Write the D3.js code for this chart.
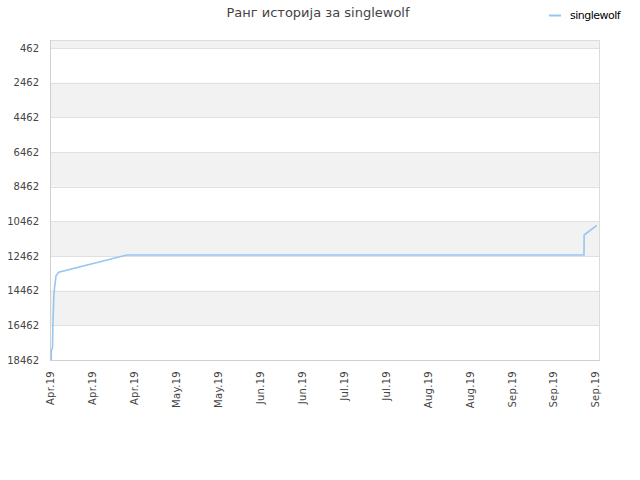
<!DOCTYPE html>
<html><head><meta charset="utf-8">
<script src="https://cdn.jsdelivr.net/npm/d3@7"></script>
<style>body{margin:0;background:#fff}</style>
</head><body><svg id="c" width="640" height="480"></svg>
<script>
const chartTitle = "Ранг историја за singlewolf";
const seriesName = "singlewolf";
const dates = [
  "2019-04-01 10:00","2019-04-01 11:00","2019-04-01 20:00","2019-04-01 22:00",
  "2019-04-02 06:00","2019-04-02 12:00","2019-04-03 00:00","2019-04-03 21:00",
  "2019-04-26 10:00","2019-09-24 17:00","2019-09-24 18:00","2019-09-28 22:00"
];
const ranks = [18462,17900,17750,16700,14800,14300,13600,13400,12400,12400,11250,10700];
const yTickValues = [462,2462,4462,6462,8462,10462,12462,14462,16462,18462];
const xTickLabels = ["Apr.19","Apr.19","Apr.19","May.19","May.19","Jun.19","Jun.19","Jul.19","Jul.19","Aug.19","Aug.19","Sep.19","Sep.19","Sep.19"];

const parse = d3.timeParse("%Y-%m-%d %H:%M");
const data = dates.map((d,i)=>({date:parse(d), rank:ranks[i]}));

const L=50,R=600,T=40,B=360;
const lineColor="#97c6f2", gridColor="#e0e0e0", bandColor="#f2f2f2", font="DejaVu Sans, sans-serif";
const svg=d3.select("#c");

const x=d3.scaleTime().domain([parse("2019-04-01 00:00"),parse("2019-09-30 00:00")]).range([L,R]);
const y=d3.scaleLinear().domain([0,18462]).range([T,B]);

// bands
const bands = yTickValues.map((v,i)=>({lo:Math.max(0,v-2000),hi:v,gray:i%2===0}));
svg.append("g").selectAll("rect").data(bands.filter(b=>b.gray)).join("rect")
  .attr("x",L).attr("width",R-L)
  .attr("y",d=>y(d.lo)).attr("height",d=>y(d.hi)-y(d.lo))
  .attr("fill",bandColor);

// grid
svg.append("g").selectAll("line").data(yTickValues).join("line")
  .attr("x1",L).attr("x2",R).attr("y1",d=>Math.round(y(d))+0.5).attr("y2",d=>Math.round(y(d))+0.5)
  .attr("stroke",gridColor).attr("stroke-width",1);

// frame
svg.append("rect").attr("x",L+0.5).attr("y",T+0.5).attr("width",R-L-1).attr("height",B-T)
  .attr("fill","none").attr("stroke","#dcdcdc");
svg.append("line").attr("x1",L+0.5).attr("x2",L+0.5).attr("y1",T).attr("y2",B+1).attr("stroke","#d0d0d0");
svg.append("line").attr("x1",L).attr("x2",R).attr("y1",B+0.5).attr("y2",B+0.5).attr("stroke","#d0d0d0");

// y axis
const ya=svg.append("g").attr("transform",`translate(${L},0)`)
  .call(d3.axisLeft(y).tickValues(yTickValues).tickSize(0).tickPadding(11).tickFormat(d=>String(d)));
ya.select(".domain").remove();
ya.selectAll("text").attr("font-family",font).attr("font-size",10).attr("fill","#444");

// x axis
const xi=d3.scaleLinear().domain([0,xTickLabels.length-1]).range([x(data[0].date),x(data[data.length-1].date)]);
const xa=svg.append("g").attr("transform",`translate(0,${B})`)
  .call(d3.axisBottom(xi).tickValues(d3.range(xTickLabels.length)).tickSize(0).tickFormat(i=>xTickLabels[i]));
xa.select(".domain").remove();
xa.selectAll("text").attr("font-family",font).attr("font-size",10).attr("fill","#444")
  .attr("letter-spacing","0.3px")
  .attr("transform","rotate(-90)").attr("text-anchor","end").attr("x",-11).attr("y",0).attr("dy","0.22em");

// line
svg.append("path").datum(data)
  .attr("d",d3.line().x(d=>x(d.date)).y(d=>y(d.rank)))
  .attr("fill","none").attr("stroke",lineColor).attr("stroke-width",1.6);

// title
svg.append("text").attr("x",318).attr("y",17).attr("text-anchor","middle")
  .attr("font-family",font).attr("font-size",13).attr("fill","#444").text(chartTitle);

// legend
svg.append("line").attr("x1",549).attr("x2",561).attr("y1",15.5).attr("y2",15.5)
  .attr("stroke",lineColor).attr("stroke-width",2);
svg.append("text").attr("x",570).attr("y",19).attr("font-family",font).attr("font-size",11)
  .attr("letter-spacing","-0.5px").attr("fill","#000").text(seriesName);
</script></body></html>
